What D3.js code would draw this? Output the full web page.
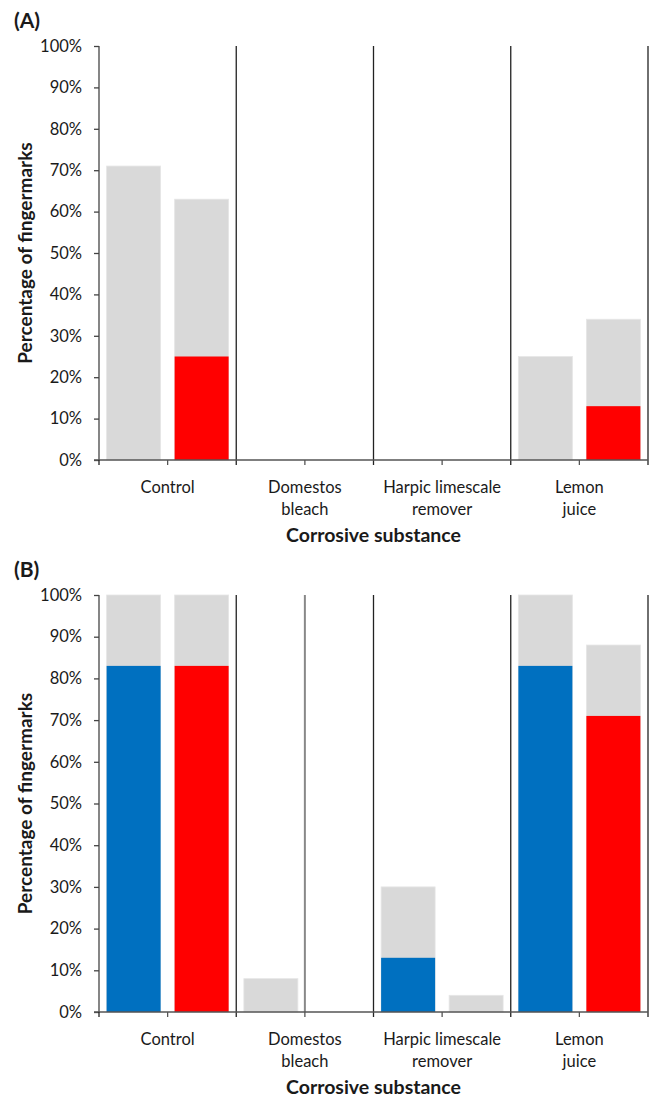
<!DOCTYPE html>
<html>
<head>
<meta charset="utf-8">
<script src="https://cdn.jsdelivr.net/npm/d3@7"></script>
<style>
  body { margin: 0; background: #fff; }
  svg text { font-family: Lato, "Open Sans", sans-serif; fill: #1a1a1a; }
</style>
</head>
<body>
<div id="chart"></div>
<script>
// categories and tick labels
const categories = ["Control", "Domestos bleach", "Harpic limescale remover", "Lemon juice"];
const categoryLines = [["Control"], ["Domestos", "bleach"], ["Harpic limescale", "remover"], ["Lemon", "juice"]];
const yTicks = [0, 10, 20, 30, 40, 50, 60, 70, 80, 90, 100];

// panel A (percent)
const aLeftTotal = [71, 0, 0, 25];
const aLeftBlue = [0, 0, 0, 0];
const aRightTotal = [63, 0, 0, 34];
const aRightRed = [25, 0, 0, 13];

// panel B (percent)
const bLeftTotal = [100, 8, 30, 100];
const bLeftBlue = [83, 0, 13, 83];
const bRightTotal = [100, 0, 4, 88];
const bRightRed = [83, 0, 0, 71];

const GREY = "#d9d9d9", RED = "#ff0000", BLUE = "#0070c0";

const svg = d3.select("#chart").append("svg")
    .attr("width", 651)
    .attr("height", 1097);

function panel(opts) {
    const left = 99, right = 648;
    const top = opts.top, bottom = opts.bottom;

    const g = svg.append("g");

    let x = d3.scaleBand().domain(categories).range([left, right]).padding(0);
    let sub = d3.scaleBand().domain(["l", "r"]).range([0, x.bandwidth()])
        .paddingInner(0.206).paddingOuter(0.112);
    let y = d3.scaleLinear().domain([0, 100]).range([bottom, top]);

    // bars: grey total behind, coloured part on top
    const rows = categories.map((c, i) => ({
        cat: c,
        bars: [
            { key: "l", total: opts.leftTotal[i], part: opts.leftPart[i], color: BLUE },
            { key: "r", total: opts.rightTotal[i], part: opts.rightPart[i], color: RED }
        ]
    }));

    const catG = g.selectAll(".cat").data(rows).enter().append("g")
        .attr("class", "cat")
        .attr("transform", d => "translate(" + x(d.cat) + ",0)");

    const barG = catG.selectAll(".barg").data(d => d.bars).enter().append("g").attr("class", "barg");

    barG.filter(d => d.total > 0).append("rect")
        .attr("x", d => sub(d.key))
        .attr("width", sub.bandwidth())
        .attr("y", d => y(d.total))
        .attr("height", d => y(0) - y(d.total))
        .attr("fill", GREY)
        .attr("stroke", "#e6e6e6")
        .attr("stroke-width", 0.8);

    barG.filter(d => d.part > 0).append("rect")
        .attr("x", d => sub(d.key))
        .attr("width", sub.bandwidth())
        .attr("y", d => y(d.part))
        .attr("height", d => y(0) - y(d.part))
        .attr("fill", d => d.color);

    // category separators, running down past the axis like ticks
    const bounds = categories.slice(1).map(c => x(c)).concat([right]);
    g.selectAll(".sep").data(bounds).enter().append("line")
        .attr("x1", d => d).attr("x2", d => d)
        .attr("y1", y(100)).attr("y2", y(0) + 5)
        .attr("stroke", "#222")
        .attr("stroke-width", 1.3);

    if (opts.midLine) {
        const mx = x(opts.midLine) + x.bandwidth() / 2;
        g.append("line")
            .attr("x1", mx).attr("x2", mx)
            .attr("y1", y(100)).attr("y2", y(0))
            .attr("stroke", "#888")
            .attr("stroke-width", 2);
    }

    // y axis
    let yAxis = d3.axisLeft(y).tickValues(yTicks).tickSize(5).tickPadding(12)
        .tickFormat(d => d + "%");
    const yAxisGroup = g.append("g").attr("class", "y-axis axis")
        .attr("transform", "translate(" + left + ",0)")
        .call(yAxis);
    yAxisGroup.select(".domain").attr("stroke", "#444").attr("stroke-width", 1.3)
        .attr("d", "M0," + y(100) + "V" + y(0));
    yAxisGroup.selectAll(".tick line").attr("stroke", "#444").attr("stroke-width", 1.3);
    yAxisGroup.selectAll("text").style("font-size", "16.5px").attr("fill", "#1a1a1a")
        .attr("font-family", null);

    // x axis line + ticks at category centres and at the left edge
    let xAxis = d3.axisBottom(x).tickSize(5).tickFormat("");
    const xAxisGroup = g.append("g").attr("class", "x-axis axis")
        .attr("transform", "translate(0," + y(0) + ")")
        .call(xAxis);
    xAxisGroup.select(".domain").attr("stroke", "#555").attr("stroke-width", 1.3)
        .attr("d", "M" + (left - 5) + ",0H" + right);
    xAxisGroup.selectAll(".tick line").attr("stroke", "#555").attr("stroke-width", 1.3);
    xAxisGroup.append("line").attr("x1", left).attr("x2", left).attr("y1", 0).attr("y2", 5)
        .attr("stroke", "#222").attr("stroke-width", 1.3);

    // category labels
    const lab = g.selectAll(".catlab").data(categories).enter().append("text")
        .attr("class", "catlab")
        .attr("text-anchor", "middle")
        .attr("x", d => x(d) + x.bandwidth() / 2)
        .attr("y", y(0) + 33)
        .style("font-size", "16.5px");
    lab.selectAll("tspan").data((d, i) => categoryLines[i]).enter().append("tspan")
        .attr("x", function() { return this.parentNode.getAttribute("x"); })
        .attr("dy", (d, i) => i === 0 ? 0 : 22)
        .text(d => d);

    // axis titles
    g.append("text")
        .attr("text-anchor", "middle")
        .attr("x", (left + right) / 2)
        .attr("y", y(0) + 82)
        .text("Corrosive substance")
        .style("font-weight", "bold")
        .style("font-size", "19.5px");

    g.append("text")
        .attr("text-anchor", "middle")
        .attr("transform", "translate(32," + (top + bottom) / 2 + ") rotate(-90)")
        .text("Percentage of fingermarks")
        .style("font-weight", "bold")
        .style("font-size", "19px");

    g.append("text")
        .attr("x", 14)
        .attr("y", top - 18)
        .text(opts.label)
        .style("font-weight", "bold")
        .style("font-size", "21px");
}

panel({
    label: "(A)", top: 46, bottom: 460,
    leftTotal: aLeftTotal, leftPart: aLeftBlue,
    rightTotal: aRightTotal, rightPart: aRightRed
});

panel({
    label: "(B)", top: 595, bottom: 1012, midLine: "Domestos bleach",
    leftTotal: bLeftTotal, leftPart: bLeftBlue,
    rightTotal: bRightTotal, rightPart: bRightRed
});
</script>
</body>
</html>
